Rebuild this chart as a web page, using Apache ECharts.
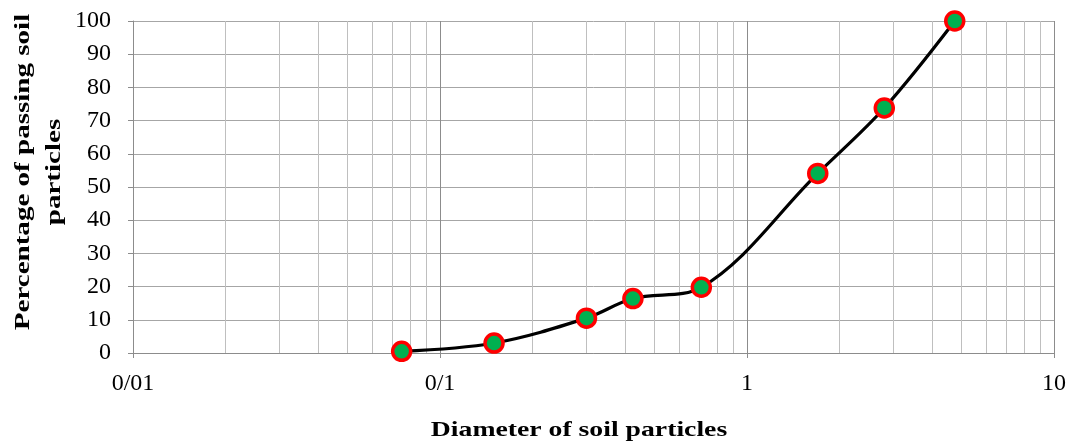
<!DOCTYPE html>
<html><head><meta charset="utf-8">
<script src="https://cdn.jsdelivr.net/npm/echarts@6/dist/echarts.min.js"></script>
<style>html,body{margin:0;padding:0;background:#fff}#c{width:1070px;height:446px}</style>
</head><body><div id="c"></div>
<script>
const diameters = [0.075, 0.15, 0.3, 0.425, 0.71, 1.7, 2.8, 4.75];
const passing = [0.5, 3.0, 10.5, 16.4, 19.8, 54.1, 73.8, 100];
const minorX = [0.02,0.03,0.04,0.05,0.06,0.07,0.08,0.09,0.2,0.3,0.4,0.5,0.6,0.7,0.8,0.9,2,3,4,5,6,7,8,9];
const xTitle = 'Diameter of soil particles';
const yTitle = 'Percentage of passing soil\nparticles';

const font = '"Liberation Serif", "Times New Roman", Times, serif';
const chart = echarts.init(document.getElementById('c'));
chart.setOption({
  animation: false,
  grid: {left: 133, right: 16, top: 21, bottom: 93},
  xAxis: {
    type: 'log', logBase: 10, min: 0.01, max: 10,
    axisLine: {show: true, lineStyle: {color: '#8c8c8c', width: 1}},
    axisTick: {show: true, length: 5, lineStyle: {color: '#8c8c8c'}},
    axisLabel: {color: '#000', fontFamily: font, fontSize: 24, margin: 19,
      formatter: v => String(+v.toPrecision(6)).replace('.', '/')},
    splitLine: {show: true, lineStyle: {color: '#8c8c8c', width: 1}}
  },
  yAxis: {
    type: 'value', min: 0, max: 100, interval: 10,
    axisLine: {show: true, lineStyle: {color: '#8c8c8c', width: 1}},
    axisTick: {show: true, length: 5, lineStyle: {color: '#8c8c8c'}},
    axisLabel: {color: '#000', fontFamily: font, fontSize: 24, margin: 22},
    splitLine: {show: true, lineStyle: {color: '#a6a6a6', width: 1}}
  },
  graphic: [
    {type: 'text', x: 579, y: 430, scaleX: 1.26,
     style: {text: xTitle, fill: '#000', fontFamily: font, fontSize: 22, fontWeight: 'bold', textAlign: 'center', textVerticalAlign: 'middle'}},
    {type: 'text', x: 39, y: 172, rotation: Math.PI/2, scaleX: 1.32,
     style: {text: yTitle, fill: '#000', fontFamily: font, fontSize: 22, fontWeight: 'bold', textAlign: 'center', textVerticalAlign: 'middle', lineHeight: 31}}
  ],
  series: [{
    type: 'line',
    data: diameters.map((d, i) => [d, passing[i]]),
    smooth: 0.35,
    symbol: 'circle', symbolSize: 18,
    lineStyle: {color: '#000', width: 3.2},
    itemStyle: {color: '#00b050', borderColor: '#ff0000', borderWidth: 3.5},
    z: 5,
    markLine: {
      silent: true, symbol: 'none', label: {show: false},
      lineStyle: {color: '#bfbfbf', width: 1, type: 'solid'},
      data: minorX.map(v => ({xAxis: v})),
      z: 1
    }
  }]
});
</script></body></html>
